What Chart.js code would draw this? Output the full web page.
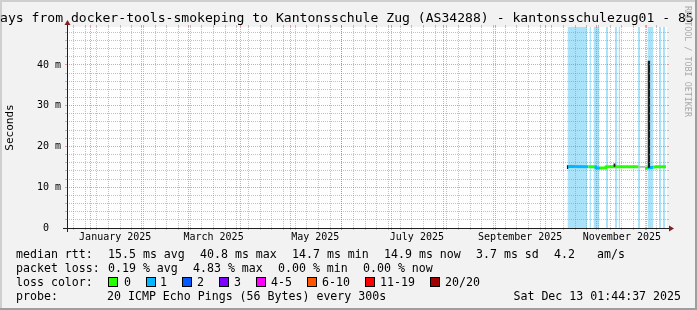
<!DOCTYPE html>
<html><head><meta charset="utf-8">
<script src="https://cdn.jsdelivr.net/npm/chart.js@4/dist/chart.umd.min.js"></script>
<style>
html,body{margin:0;padding:0;background:#f2f2f2;}
#wrap{position:relative;width:697px;height:310px;overflow:hidden;background:#f2f2f2;font-family:"DejaVu Sans Mono",monospace;color:#000;}
#c{position:absolute;left:0;top:0;}
.t{position:absolute;white-space:pre;font-size:11.6px;line-height:14px;}
.box{position:absolute;width:8px;height:8px;border:1px solid #000;}
.fr{position:absolute;}
</style></head><body>
<div id="wrap">
<div class="fr" style="left:0;top:0;width:697px;height:2px;background:#cfcfcf"></div>
<div class="fr" style="left:0;top:0;width:2px;height:310px;background:#cfcfcf"></div>
<div class="fr" style="left:695px;top:0;width:2px;height:310px;background:#9e9e9e"></div>
<div class="fr" style="left:0;top:308px;width:697px;height:2px;background:#9e9e9e"></div>
<canvas id="c" width="697" height="310"></canvas>
<div id="title" class="t" style="left:0;top:10px;font-size:13.1px;line-height:15px;"></div>
<div id="wm" class="t" style="left:683px;top:6px;font-size:8.4px;line-height:10px;color:#a9a9a9;writing-mode:vertical-rl;"></div>
<div id="legend"></div>
</div>
<script>
// ---------------- data ----------------
const titleText = 'ays from docker-tools-smokeping to Kantonsschule Zug (AS34288) - kantonsschulezug01 - 85';
const watermarkText = 'RRDTOOL / TOBI OETIKER';
const yAxisTitle = 'Seconds';
const END_TIME = '2025-12-13T01:44:37';
const SPAN_DAYS = 360;

// median round trip time (ms) and number of lost pings (of 20) per sample
const medianTimes = ['2025-10-14T06:00','2025-10-15T14:00','2025-10-26T21:00','2025-10-31T05:00','2025-10-31T11:00','2025-11-02T21:00','2025-11-05T21:00','2025-11-06T08:00','2025-11-25T21:00','2025-11-26T12:00','2025-11-29T21:00','2025-12-01T05:00','2025-12-04T21:00','2025-12-05T21:00','2025-12-12T11:00'];
const medianMs   = [14.9, 15.1, 15.05, 15.0, 14.7, 14.7, 14.7, 15.05, 15.05, null, 14.7, 14.7, 14.9, 15.0, 15.0];
const medianLoss = [1, 1, 0, 1, 1, 0, 0, 0, 0, 0, 0, 1, 0, 0, 0];

// smoke (spread of the 20 pings), dark and light parts
const smokeDarkTimes = ['2025-10-13T22:00','2025-10-14T20:00','2025-10-14T21:00','2025-11-10T21:00','2025-11-12T06:00','2025-11-12T07:00','2025-12-01T09:00','2025-12-03T01:00'];
const smokeDarkHigh  = [15.4, 15.4, null, 15.8, 15.8, null, 41.0, 41.0];
const smokeDarkLow   = [14.5, 14.5, null, 15.0, 15.0, null, 14.8, 14.8];
const smokeLightTimes = ['2025-10-15T21:00','2025-10-18T21:00','2025-10-18T22:00','2025-11-25T21:00','2025-11-29T21:00'];
const smokeLightHigh  = [15.5, 15.5, null, 15.2, 15.2];
const smokeLightLow   = [15.1, 15.1, null, 14.8, 14.8];

// periods with packet loss (background stripes)
const lossBandStart = ['2025-10-14T09:00','2025-10-27T13:44','2025-10-29T23:20','2025-11-06T11:20','2025-11-11T21:00','2025-11-13T23:20','2025-11-25T16:10','2025-12-01T09:00','2025-12-08T06:30','2025-12-10T16:10'];
const lossBandEnd   = ['2025-10-26T01:44','2025-10-28T11:20','2025-11-02T13:44','2025-11-07T16:10','2025-11-13T01:44','2025-11-14T21:00','2025-11-26T20:50','2025-12-04T23:20','2025-12-09T11:20','2025-12-11T21:00'];

const lossLegendLabels = ['0','1','2','3','4-5','6-10','11-19','20/20'];
const lossLegendColors = ['#26ff00','#00b8ff','#0059ff','#7e00ff','#ff00ff','#ff5500','#ff0000','#a10000'];
const lossLegendUpTo   = [0, 1, 2, 3, 5, 10, 19, 20];

const yMax = 49.3;
const yMinorStep = 2;
const yLabelValues = [0, 10, 20, 30, 40];
const yLabelTexts  = ['0  ', '10 m', '20 m', '30 m', '40 m'];

const xLabelMonths = ['2025-01-01','2025-03-01','2025-05-01','2025-07-01','2025-09-01','2025-11-01'];
const xLabelTexts  = ['January 2025','March 2025','May 2025','July 2025','September 2025','November 2025'];

const rttHeader = 'median rtt:';
const rttStats  = ['15.5 ms avg','40.8 ms max','14.7 ms min','14.9 ms now','3.7 ms sd','4.2','am/s'];
const lossHeader = 'packet loss:';
const lossStats  = ['0.19 % avg','4.83 % max','0.00 % min','0.00 % now'];
const colorHeader = 'loss color:';
const probeHeader = 'probe:';
const probeText = '20 ICMP Echo Pings (56 Bytes) every 300s';
const stampText = 'Sat Dec 13 01:44:37 2025';

// ---------------- helpers ----------------
const FONT = '"DejaVu Sans Mono", monospace';
const DAY = 86400000;
const ts = s => Date.parse(s + 'Z');
const tEnd = ts(END_TIME);
const tStart = tEnd - SPAN_DAYS * DAY;
const GRID = 'rgba(143,143,143,0.55)';
const MGRID = 'rgba(222,79,79,0.55)';
const NONE = 'rgba(0,0,0,0)';

function lossColor(n) {
  for (let i = 0; i < lossLegendUpTo.length; i++) if (n <= lossLegendUpTo[i]) return lossLegendColors[i];
  return lossLegendColors[lossLegendColors.length - 1];
}
const pts = (times, vals) => times.map((s, i) => ({x: ts(s), y: vals[i]}));

function buildXTicks() {
  const out = [];
  let d = new Date(tStart); d.setUTCHours(0, 0, 0, 0);
  while (d.getUTCDay() !== 0) d = new Date(d.getTime() + DAY);
  for (let v = d.getTime(); v <= tEnd; v += 7 * DAY) if (v > tStart) out.push({value: v, kind: 'minor'});
  const s0 = new Date(tStart);
  let m = new Date(Date.UTC(s0.getUTCFullYear(), s0.getUTCMonth() + 1, 1));
  while (m.getTime() < tEnd) {
    out.push({value: m.getTime(), kind: 'major'});
    m = new Date(Date.UTC(m.getUTCFullYear(), m.getUTCMonth() + 1, 1));
  }
  xLabelMonths.forEach((s, i) => out.push({value: ts(s + 'T00:00:00') + 15 * DAY, kind: 'label', txt: xLabelTexts[i]}));
  out.sort((a, b) => a.value - b.value);
  return out;
}
function buildYTicks() {
  const out = [];
  for (let v = 0; v <= yMax + 1e-9; v += yMinorStep) {
    const li = yLabelValues.indexOf(v);
    out.push({value: v, kind: li >= 0 ? 'major' : 'minor', txt: li >= 0 ? yLabelTexts[li] : ''});
  }
  return out;
}
const gridCol = c => !c.tick ? NONE : c.tick.kind === 'major' ? MGRID : c.tick.kind === 'minor' ? GRID : NONE;

const bandData = [];
lossBandStart.forEach((s, i) => {
  bandData.push({x: ts(s), y: 1}, {x: ts(lossBandEnd[i]), y: 1}, {x: ts(lossBandEnd[i]) + 1000, y: null});
});

// ---------------- text ----------------
document.getElementById('title').textContent = titleText;
document.getElementById('wm').textContent = watermarkText;
const leg = document.getElementById('legend');
function txt(x, yc, s, align) {
  const d = document.createElement('div');
  d.className = 't'; d.textContent = s;
  d.style.top = (yc - 7) + 'px';
  if (align === 'right') d.style.right = (697 - x) + 'px'; else d.style.left = x + 'px';
  leg.appendChild(d);
}
const row1 = [108, 200, 292, 384, 476, 554, 597];
txt(16, 254, rttHeader); rttStats.forEach((s, i) => txt(row1[i], 254, s));
const row2 = [108, 193, 278, 363];
txt(16, 268, lossHeader); lossStats.forEach((s, i) => txt(row2[i], 268, s));
const boxX = [108, 146, 182, 219, 256, 307, 365, 430];
const labX = [124, 160, 197, 234, 271, 322, 380, 445];
txt(16, 282, colorHeader);
lossLegendLabels.forEach((s, i) => {
  const b = document.createElement('div');
  b.className = 'box'; b.style.left = boxX[i] + 'px'; b.style.top = '277px';
  b.style.background = lossLegendColors[i];
  leg.appendChild(b);
  txt(labX[i], 282, s);
});
txt(16, 296, probeHeader); txt(107, 296, probeText); txt(681, 296, stampText, 'right');

// ---------------- chart ----------------
const framePlugin = {
  id: 'rrdframe',
  beforeDraw(chart) {
    const {ctx, chartArea: a} = chart;
    ctx.save(); ctx.fillStyle = '#ffffff';
    ctx.fillRect(a.left, a.top, a.right - a.left, a.bottom - a.top);
    ctx.restore();
  },
  afterDraw(chart) {
    const {ctx, chartArea: a} = chart;
    const yo = a.bottom + 0.5, xo = a.left + 0.5;
    ctx.save();
    ctx.strokeStyle = '#1f1f1f'; ctx.lineWidth = 1;
    ctx.beginPath();
    ctx.moveTo(a.left - 4, yo); ctx.lineTo(a.right + 4, yo);
    ctx.moveTo(xo, a.bottom + 4); ctx.lineTo(xo, a.top - 4);
    ctx.stroke();
    ctx.fillStyle = '#801f1f';
    ctx.beginPath();
    ctx.moveTo(a.right + 2, yo - 3); ctx.lineTo(a.right + 2, yo + 3); ctx.lineTo(a.right + 7, yo); ctx.closePath(); ctx.fill();
    ctx.beginPath();
    ctx.moveTo(xo - 3, a.top - 2); ctx.lineTo(xo + 3, a.top - 2); ctx.lineTo(xo, a.top - 7); ctx.closePath(); ctx.fill();
    ctx.restore();
  }
};

const tickFont = {family: FONT, size: 10};
const xScaleBase = {
  type: 'linear', min: tStart, max: tEnd,
  afterBuildTicks: s => { s.ticks = buildXTicks(); },
};
const yScaleBase = {
  type: 'linear', min: 0, max: yMax,
  afterBuildTicks: s => { s.ticks = buildYTicks(); },
};

new Chart(document.getElementById('c'), {
  type: 'line',
  data: {
    datasets: [
      {label: 'smokeDarkHigh', data: pts(smokeDarkTimes, smokeDarkHigh), fill: '+1', backgroundColor: '#1c1c1c', borderColor: NONE, borderWidth: 0, pointRadius: 0, order: 1, spanGaps: false},
      {label: 'smokeDarkLow', data: pts(smokeDarkTimes, smokeDarkLow), fill: false, borderColor: NONE, borderWidth: 0, pointRadius: 0, order: 1, spanGaps: false},
      {label: 'median', data: pts(medianTimes, medianMs), fill: false, borderWidth: 3, pointRadius: 0, order: 2, spanGaps: false,
        borderColor: lossColor(0), borderCapStyle: 'butt', borderJoinStyle: 'round',
        segment: {borderColor: c => lossColor(medianLoss[c.p0DataIndex])}},
      {label: 'smokeLightHigh', data: pts(smokeLightTimes, smokeLightHigh), fill: '+1', backgroundColor: '#b9b9b9', borderColor: NONE, borderWidth: 0, pointRadius: 0, order: 3, spanGaps: false},
      {label: 'smokeLightLow', data: pts(smokeLightTimes, smokeLightLow), fill: false, borderColor: NONE, borderWidth: 0, pointRadius: 0, order: 3, spanGaps: false},
      {label: 'loss', data: bandData, yAxisID: 'yb', fill: 'origin', backgroundColor: '#aae3f9', borderColor: NONE, borderWidth: 0, pointRadius: 0, order: 4, spanGaps: false}
    ]
  },
  options: {
    responsive: false, animation: false, devicePixelRatio: 1,
    layout: {padding: {left: 0, right: 28, top: 25, bottom: 0}},
    plugins: {legend: {display: false}, title: {display: false}, tooltip: {enabled: false}},
    elements: {line: {tension: 0}},
    scales: {
      x: Object.assign({}, xScaleBase, {
        position: 'bottom',
        afterFit: s => { s.height = 82; },
        ticks: {autoSkip: false, maxRotation: 0, minRotation: 0, padding: 1.5, color: '#000', font: tickFont,
          callback: (v, i, t) => (t[i] && t[i].txt) || ''},
        grid: {z: 1, lineWidth: 1, color: gridCol, tickColor: gridCol, tickLength: 2, drawTicks: true},
        border: {display: false, dash: [1, 1]}
      }),
      x2: Object.assign({}, xScaleBase, {
        position: 'top',
        afterFit: s => { s.height = 2; },
        ticks: {display: false},
        grid: {z: 1, lineWidth: 1, color: gridCol, tickColor: gridCol, tickLength: 2, drawOnChartArea: false},
        border: {display: false}
      }),
      y: Object.assign({}, yScaleBase, {
        position: 'left',
        afterFit: s => { s.width = 67; },
        ticks: {autoSkip: false, padding: 4, color: '#000', font: tickFont,
          callback: (v, i, t) => (t[i] && t[i].txt) || ''},
        grid: {z: 1, lineWidth: 1, color: gridCol, tickColor: gridCol, tickLength: 2, drawTicks: true},
        border: {display: false, dash: [1, 1]},
        title: {display: true, text: yAxisTitle, color: '#000', font: {family: FONT, size: 11}, padding: {top: 4, bottom: 0}}
      }),
      y2: Object.assign({}, yScaleBase, {
        position: 'right',
        afterFit: s => { s.width = 2; },
        ticks: {display: false},
        grid: {z: 1, lineWidth: 1, color: gridCol, tickColor: gridCol, tickLength: 2, drawOnChartArea: false},
        border: {display: false}
      }),
      yb: {type: 'linear', display: false, min: 0, max: 1}
    }
  },
  plugins: [framePlugin]
});
</script>
</body></html>
